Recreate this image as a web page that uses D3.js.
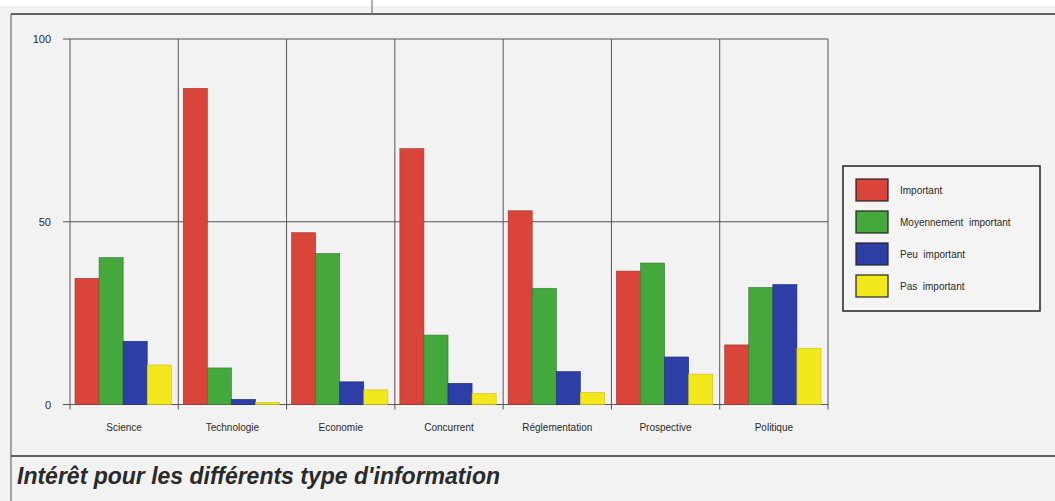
<!DOCTYPE html>
<html>
<head>
<meta charset="utf-8">
<script src="https://cdn.jsdelivr.net/npm/d3@7"></script>
<style>
  body { margin: 0; background: #ffffff; overflow: hidden; }
  text { font-family: "Liberation Sans", Arial, sans-serif; fill: #2a2a2a; }
</style>
</head>
<body>
<script>
// chart data
const categories = ["Science", "Technologie", "Economie", "Concurrent", "Réglementation", "Prospective", "Politique"];
const series = ["Important", "Moyennement  important", "Peu  important", "Pas  important"];
const important = [34.5, 86.5, 47, 70, 53, 36.5, 16.3];
const moyennement = [40.2, 10, 41.3, 19, 31.8, 38.7, 32];
const peu = [17.3, 1.4, 6.2, 5.8, 9, 13, 32.8];
const pas = [10.8, 0.6, 4, 3, 3.3, 8.3, 15.4];
const yTicks = [0, 50, 100];
const colors = ["#d9453b", "#45a83d", "#2d3fa6", "#f3e81c"];
const strokes = ["#a8302a", "#2f7a2a", "#1c2a78", "#c9be10"];

const width = 1055;
const height = 501;

const svg = d3.select("body")
  .append("svg")
  .attr("width", width)
  .attr("height", height)
  .style("display", "block");

// page background + frame
svg.append("rect").attr("x", 0).attr("y", 6).attr("width", width).attr("height", height - 6).attr("fill", "#f2f2f2");
svg.append("line").attr("x1", 11).attr("x2", width).attr("y1", 14).attr("y2", 14).attr("stroke", "#333").attr("stroke-width", 1.5);
svg.append("line").attr("x1", 11).attr("x2", 11).attr("y1", 14).attr("y2", height).attr("stroke", "#555").attr("stroke-width", 1);
svg.append("line").attr("x1", 11).attr("x2", width).attr("y1", 456).attr("y2", 456).attr("stroke", "#333").attr("stroke-width", 1.5);
svg.append("line").attr("x1", 372).attr("x2", 372).attr("y1", 0).attr("y2", 14).attr("stroke", "#666").attr("stroke-width", 1);

const margin = { top: 39, left: 70, right: 227, bottom: 95 };
const innerWidth = width - margin.left - margin.right;
const innerHeight = height - margin.top - margin.bottom - 1.5;

const g = svg.append("g").attr("transform", `translate(${margin.left}, ${margin.top})`);

const xScale = d3.scaleBand().domain(categories).range([0, innerWidth]).padding(0);
const xInner = d3.scaleBand().domain(d3.range(series.length)).range([5, xScale.bandwidth() - 7]).padding(0);
const yScale = d3.scaleLinear().domain([0, 100]).range([innerHeight, 0]);

// horizontal grid lines
g.selectAll(".hgrid")
  .data(yTicks)
  .enter()
  .append("line")
  .attr("x1", -7)
  .attr("x2", innerWidth)
  .attr("y1", (d) => yScale(d))
  .attr("y2", (d) => yScale(d))
  .attr("stroke", "#555")
  .attr("stroke-width", 1);

g.selectAll(".ylabel")
  .data(yTicks)
  .enter()
  .append("text")
  .attr("x", -19)
  .attr("y", (d) => yScale(d) + 4)
  .attr("text-anchor", "end")
  .attr("font-size", 11)
  .text((d) => d);

// vertical category lines
const bounds = categories.map((c) => xScale(c)).concat([innerWidth]);
g.selectAll(".vgrid")
  .data(bounds)
  .enter()
  .append("line")
  .attr("x1", (d) => d)
  .attr("x2", (d) => d)
  .attr("y1", 0)
  .attr("y2", innerHeight + 5)
  .attr("stroke", "#555")
  .attr("stroke-width", 1);

// bars
const table = categories.map((c, i) => ({
  cat: c,
  values: [important[i], moyennement[i], peu[i], pas[i]]
}));

const groups = g.selectAll(".grp")
  .data(table)
  .enter()
  .append("g")
  .attr("transform", (d) => `translate(${xScale(d.cat)}, 0)`);

groups.selectAll("rect")
  .data((d) => d.values)
  .enter()
  .append("rect")
  .attr("x", (d, i) => xInner(i))
  .attr("y", (d) => yScale(d))
  .attr("width", xInner.bandwidth())
  .attr("height", (d) => innerHeight - yScale(d))
  .attr("fill", (d, i) => colors[i])
  .attr("stroke", (d, i) => strokes[i])
  .attr("stroke-width", 0.6);

// x labels
g.selectAll(".xlabel")
  .data(categories)
  .enter()
  .append("text")
  .attr("x", (d) => xScale(d) + xScale.bandwidth() / 2)
  .attr("y", innerHeight + 26)
  .attr("text-anchor", "middle")
  .attr("font-size", 10)
  .text((d) => d);

// legend
const legend = svg.append("g").attr("transform", "translate(843, 166)");
legend.append("rect")
  .attr("width", 197)
  .attr("height", 145)
  .attr("fill", "#f4f4f4")
  .attr("stroke", "#222")
  .attr("stroke-width", 1.5);

const items = legend.selectAll(".item")
  .data(series)
  .enter()
  .append("g")
  .attr("transform", (d, i) => `translate(13, ${13 + i * 32})`);
items.append("rect")
  .attr("width", 32)
  .attr("height", 22)
  .attr("fill", (d, i) => colors[i])
  .attr("stroke", "#222")
  .attr("stroke-width", 1.2);
items.append("text")
  .attr("x", 44)
  .attr("y", 15)
  .attr("font-size", 10)
  .style("white-space", "pre")
  .text((d) => d);

// title
svg.append("text")
  .attr("x", 17)
  .attr("y", 484)
  .attr("font-size", 23)
  .attr("font-weight", "bold")
  .attr("font-style", "italic")
  .text("Intérêt pour les différents type d'information");
</script>
</body>
</html>
